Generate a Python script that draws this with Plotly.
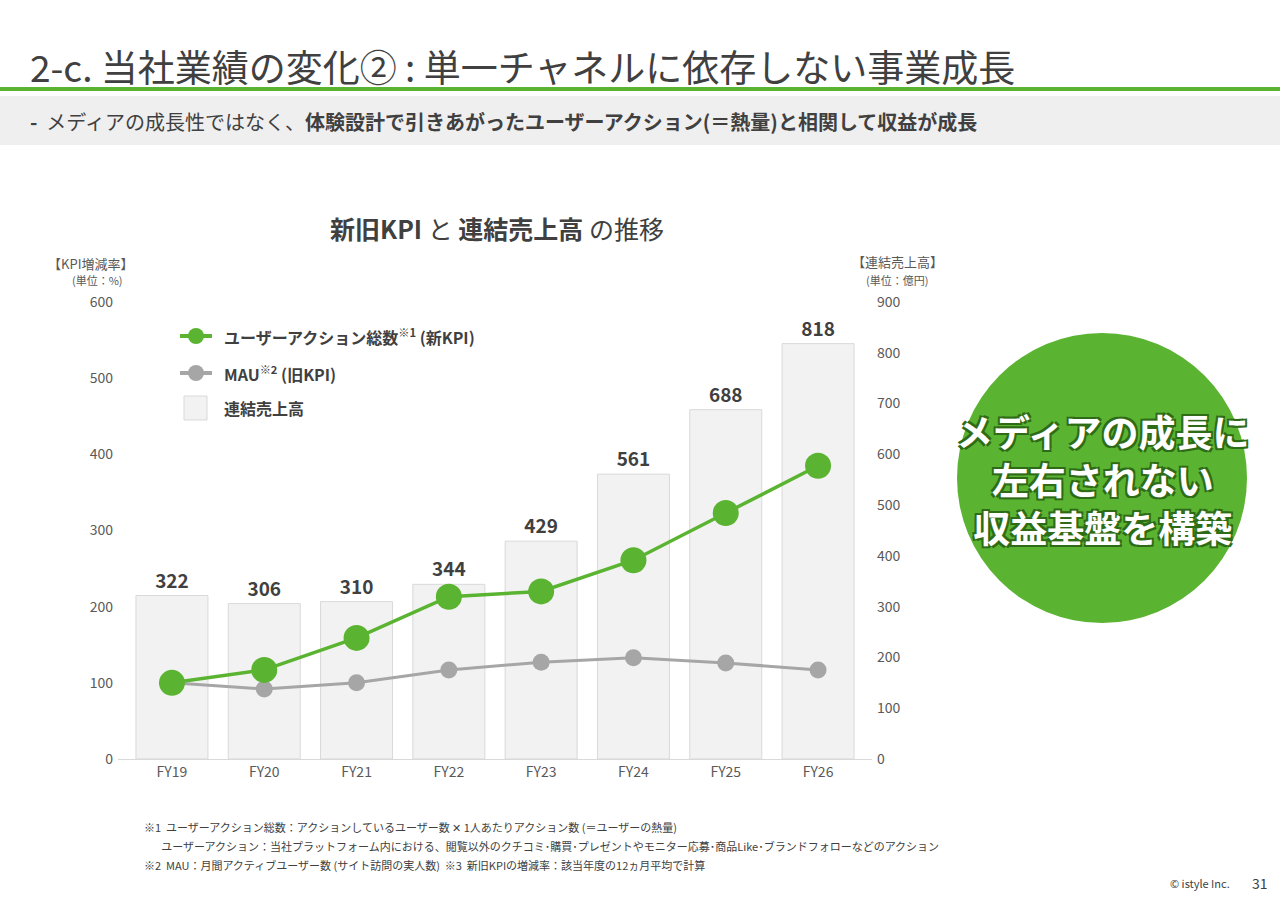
import plotly.graph_objects as go

categories = ["FY19","FY20","FY21","FY22","FY23","FY24","FY25","FY26"]
sales = [322,306,310,344,429,561,688,818]
action_kpi = [100,117,159,213,220,261,323,385]
mau_kpi = [100,92,100,117,127,133,126,117]

L,R,T,B = 118,872,302,759
W,H = 1280,904
def px(x): return (x-L)/(R-L)
def py(y): return (B-y)/(B-T)

fig = go.Figure()
fig.add_bar(x=categories, y=sales, yaxis="y", marker=dict(color="#f2f2f2", line=dict(color="#d9d9d9", width=1)),
            width=0.78, text=[str(v) for v in sales], textposition="outside",
            textfont=dict(size=19, color="#404040", family="Noto Sans CJK JP", weight="bold"), cliponaxis=False, showlegend=False)
fig.add_scatter(x=categories, y=mau_kpi, yaxis="y2", mode="lines+markers", line=dict(color="#a6a6a6", width=3),
                marker=dict(size=17, color="#a6a6a6"), showlegend=False)
fig.add_scatter(x=categories, y=action_kpi, yaxis="y2", mode="lines+markers", line=dict(color="#5bb431", width=3.5),
                marker=dict(size=26, color="#5bb431"), showlegend=False)

font = "Noto Sans CJK JP"
fig.update_layout(
    width=W, height=H, margin=dict(l=L, r=W-R, t=T, b=H-B, autoexpand=False),
    plot_bgcolor="white", paper_bgcolor="white", font=dict(family=font, color="#595959"),
    bargap=0.2,
    xaxis=dict(showgrid=False, showline=True, linecolor="#d9d9d9", ticks="", tickfont=dict(size=14), automargin=False),
    yaxis=dict(range=[0,900], dtick=100, side="right", showgrid=False, zeroline=False, tickfont=dict(size=14), automargin=False, ticklabelstandoff=4),
    yaxis2=dict(range=[0,600], dtick=100, overlaying="y", side="left", showgrid=False, zeroline=False, tickfont=dict(size=14), automargin=False, ticklabelstandoff=4),
)

shapes = []
ann = []
ann.append(dict(x=px(28), y=py(66), text="2-c. 当社業績の変化② : 単一チャネルに依存しない事業成長", showarrow=False,
                xanchor="left", font=dict(size=37, color="#404040")))
shapes.append(dict(type="line", xref="paper", yref="paper", x0=px(0), x1=px(1280), y0=py(89), y1=py(89), line=dict(color="#5bb431", width=4)))
shapes.append(dict(type="rect", xref="paper", yref="paper", x0=px(0), x1=px(1280), y0=py(96), y1=py(145), fillcolor="#efefef", line=dict(width=0), layer="below"))
ann.append(dict(x=px(28), y=py(121), text="<b>-</b>  メディアの成長性ではなく、<b>体験設計で引きあがったユーザーアクション(＝熱量)と相関して収益が成長</b>", showarrow=False,
                xanchor="left", font=dict(size=20, color="#404040")))
ann.append(dict(x=px(497), y=py(228), text="<b>新旧KPI</b> と <b>連結売上高</b> の推移", showarrow=False, xanchor="center", font=dict(size=25, color="#404040")))
ann.append(dict(x=px(90), y=py(263), text="【KPI増減率】", showarrow=False, xanchor="center", font=dict(size=13)))
ann.append(dict(x=px(97), y=py(280), text="(単位：%)", showarrow=False, xanchor="center", font=dict(size=11)))
ann.append(dict(x=px(897), y=py(261), text="【連結売上高】", showarrow=False, xanchor="center", font=dict(size=13)))
ann.append(dict(x=px(897), y=py(280), text="(単位：億円)", showarrow=False, xanchor="center", font=dict(size=11)))
shapes.append(dict(type="line", xref="paper", yref="paper", x0=px(180), x1=px(212), y0=py(336), y1=py(336), line=dict(color="#5bb431", width=4)))
shapes.append(dict(type="circle", xref="paper", yref="paper", x0=px(188), x1=px(204), y0=py(344), y1=py(328), fillcolor="#5bb431", line=dict(width=0)))
shapes.append(dict(type="line", xref="paper", yref="paper", x0=px(180), x1=px(212), y0=py(373), y1=py(373), line=dict(color="#a6a6a6", width=4)))
shapes.append(dict(type="circle", xref="paper", yref="paper", x0=px(188), x1=px(204), y0=py(381), y1=py(365), fillcolor="#a6a6a6", line=dict(width=0)))
shapes.append(dict(type="rect", xref="paper", yref="paper", x0=px(184), x1=px(207), y0=py(420), y1=py(396), fillcolor="#f2f2f2", line=dict(color="#d9d9d9", width=1)))
ann.append(dict(x=px(222), y=py(336), text="<b>ユーザーアクション総数<sup>※1</sup> (新KPI)</b>", showarrow=False, xanchor="left", font=dict(size=16, color="#404040")))
ann.append(dict(x=px(222), y=py(373), text="<b>MAU<sup>※2</sup> (旧KPI)</b>", showarrow=False, xanchor="left", font=dict(size=16, color="#404040")))
ann.append(dict(x=px(222), y=py(408), text="<b>連結売上高</b>", showarrow=False, xanchor="left", font=dict(size=16, color="#404040")))
shapes.append(dict(type="circle", xref="paper", yref="paper", x0=px(957), x1=px(1247), y0=py(623), y1=py(333), fillcolor="#5bb431", line=dict(width=0)))
ann.append(dict(x=px(1102), y=py(479), text="<b>メディアの成長に<br>左右されない<br>収益基盤を構築</b>", showarrow=False,
                xanchor="center",
                font=dict(size=37, color="white", shadow="2px 2px 0 #2e6b16, -2px -2px 0 #2e6b16, 2px -2px 0 #2e6b16, -2px 2px 0 #2e6b16"),
                align="center"))
notes = [(827, "※1  ユーザーアクション総数：アクションしているユーザー数 ✕ 1人あたりアクション数 (＝ユーザーの熱量)"),
         (846, "       ユーザーアクション：当社プラットフォーム内における、閲覧以外のクチコミ･購買･プレゼントやモニター応募･商品Like･ブランドフォローなどのアクション"),
         (865, "※2  MAU：月間アクティブユーザー数 (サイト訪問の実人数)  ※3  新旧KPIの増減率：該当年度の12ヵ月平均で計算")]
for y, t in notes:
    ann.append(dict(x=px(142), y=py(y), text=t, showarrow=False, xanchor="left", font=dict(size=11, color="#404040")))
ann.append(dict(x=px(1232), y=py(883), text="© istyle Inc.", showarrow=False, xanchor="right", font=dict(size=11, color="#404040")))
ann.append(dict(x=px(1270), y=py(883), text="31", showarrow=False, xanchor="right", font=dict(size=14, color="#404040")))
for a in ann:
    a.setdefault("xref", "paper"); a.setdefault("yref", "paper"); a.setdefault("yanchor", "middle")
fig.update_layout(shapes=shapes, annotations=ann)
fig.write_html("out.html", config={"displayModeBar": False},
               post_script="document.body.style.margin='0';document.body.style.padding='0';")
